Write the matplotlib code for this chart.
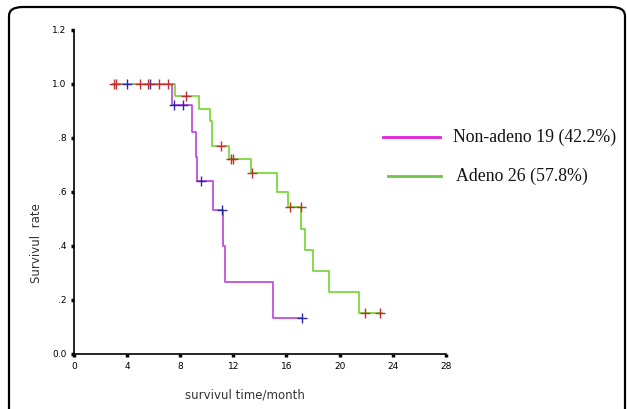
import numpy as np
import matplotlib.pyplot as plt
from matplotlib.patches import FancyBboxPatch

# Kaplan-Meier steps (time in months, survival rate)
non_t = [2.95, 7.4, 8.9, 9.18, 9.28, 10.48, 11.24, 11.41, 14.95, 17.2]
non_s = [1.0, 0.923, 0.821, 0.731, 0.640, 0.533, 0.400, 0.267, 0.133, 0.133]
non_cens = [3.96, 5.72, 7.5, 8.18, 9.53, 11.16, 17.2]

ad_t = [2.95, 7.6, 9.43, 10.28, 10.4, 11.69, 13.3, 15.3, 16.13, 17.13, 17.43,
        18.0, 19.19, 21.44, 23.2]
ad_s = [1.0, 0.954, 0.909, 0.863, 0.772, 0.722, 0.669, 0.601, 0.543, 0.462,
        0.385, 0.309, 0.228, 0.153, 0.153]
ad_cens = [3.0, 3.2, 4.97, 5.6, 6.42, 7.1, 8.43, 11.04, 11.8, 11.98, 13.42,
           16.25, 17.06, 21.9, 23.08]

xticks = [0, 4, 8, 12, 16, 20, 24, 28]
yticks = [0.0, 0.2, 0.4, 0.6, 0.8, 1.0, 1.2]
ylabels = ["0.0", ".2", ".4", ".6", ".8", "1.0", "1.2"]


def surv_at(t, times, surv):
    i = np.searchsorted(times, t, side="right") - 1
    return np.asarray(surv)[np.clip(i, 0, len(surv) - 1)]


fig = plt.figure(figsize=(6.27, 4.09), dpi=100)
ax = fig.add_axes([0.118, 0.1345, 0.593, 0.7922])

ax.step(non_t, non_s, where="post", color="#c04ee0", lw=1.3)
ax.step(ad_t, ad_s, where="post", color="#7ed83e", lw=1.3)
ax.plot(non_cens, surv_at(non_cens, non_t, non_s), "+", color="#2a2aa8",
        ms=6.5, mew=1.0)
ax.plot(ad_cens, surv_at(ad_cens, ad_t, ad_s), "+", color="#c03030",
        ms=6.5, mew=1.0)

ax.set_xlim(0, 28)
ax.set_ylim(0, 1.2)
ax.set_xticks(xticks)
ax.set_yticks(yticks)
ax.set_yticklabels(ylabels)
ax.tick_params(length=2.5, width=2.5, labelsize=6.5, colors="black", pad=3)
for side in ["top", "right"]:
    ax.spines[side].set_visible(False)
ax.spines["left"].set_linewidth(1.2)
ax.spines["bottom"].set_linewidth(1.2)

fig.text(0.059, 0.405, "Survivul  rate", rotation=90, ha="center",
         va="center", fontsize=8.5, color="#333333")
fig.text(0.39, 0.035, "survivul time/month", ha="center", va="center",
         fontsize=8.5, color="#333333")

# legend drawn by hand as in the source figure
fig.add_artist(plt.Line2D([383 / 627, 440 / 627], [1 - 137 / 409] * 2,
                          color="#e020e0", lw=2))
fig.add_artist(plt.Line2D([388 / 627, 441 / 627], [1 - 176 / 409] * 2,
                          color="#6cc44c", lw=2))
fig.text(453 / 627, 1 - 137 / 409, "Non-adeno 19 (42.2%)", va="center",
         fontsize=12.8, family="Liberation Serif", color="#111111")
fig.text(456 / 627, 1 - 176 / 409, "Adeno 26 (57.8%)", va="center",
         fontsize=12.8, family="Liberation Serif", color="#111111")

# panel frame with rounded corners, cut off at the bottom
frame = FancyBboxPatch((9 / 627, -0.2), 616 / 627, 1.2 - 7 / 409,
                       boxstyle="round,pad=0,rounding_size=0.022",
                       transform=fig.transFigure, fill=False,
                       edgecolor="black", lw=1.6, clip_on=False)
fig.add_artist(frame)

fig.savefig("out.png", dpi=100)
